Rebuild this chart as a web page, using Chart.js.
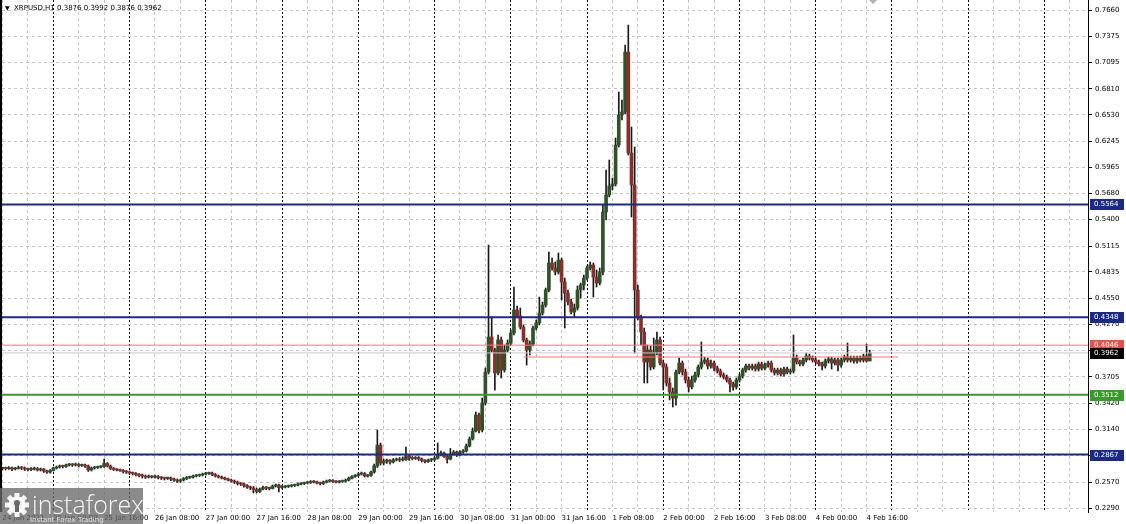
<!DOCTYPE html>
<html><head><meta charset="utf-8">
<script src="https://cdn.jsdelivr.net/npm/chart.js@4.4.1/dist/chart.umd.min.js"></script>
<style>html,body{margin:0;padding:0;background:#fff;overflow:hidden}#wrap{width:1126px;height:524px;position:relative}</style>
</head><body><div id="wrap"><canvas id="c" width="1126" height="524"></canvas></div>
<script>
const symbol = 'XRPUSD,H1';
const firstBarHour = 8; // hours counted from 24 Jan 2021 00:00
const open = [
0.2716,0.2721,0.2716,0.2721,0.2710,0.2716,0.2727,0.2721,0.2710,0.2705,
0.2710,0.2716,0.2700,0.2710,0.2689,0.2678,0.2694,0.2721,0.2732,0.2743,
0.2738,0.2754,0.2759,0.2754,0.2759,0.2748,0.2754,0.2743,0.2700,0.2721,
0.2727,0.2732,0.2738,0.2770,0.2743,0.2716,0.2705,0.2700,0.2694,0.2684,
0.2678,0.2667,0.2662,0.2651,0.2640,0.2635,0.2624,0.2630,0.2624,0.2630,
0.2619,0.2613,0.2608,0.2613,0.2603,0.2592,0.2581,0.2592,0.2608,0.2619,
0.2624,0.2635,0.2640,0.2646,0.2657,0.2662,0.2667,0.2651,0.2635,0.2624,
0.2613,0.2603,0.2592,0.2581,0.2570,0.2554,0.2549,0.2533,0.2516,0.2506,
0.2489,0.2468,0.2495,0.2511,0.2506,0.2500,0.2527,0.2538,0.2511,0.2516,
0.2522,0.2527,0.2533,0.2538,0.2549,0.2554,0.2560,0.2565,0.2576,0.2570,
0.2560,0.2554,0.2570,0.2581,0.2586,0.2576,0.2570,0.2576,0.2581,0.2592,
0.2613,0.2630,0.2640,0.2657,0.2662,0.2635,0.2640,0.2678,0.2743,0.2969,
0.2775,0.2797,0.2802,0.2786,0.2808,0.2818,0.2808,0.2813,0.2851,0.2829,
0.2824,0.2835,0.2818,0.2802,0.2791,0.2808,0.2813,0.2829,0.2862,0.2883,
0.2845,0.2818,0.2872,0.2894,0.2862,0.2894,0.2905,0.2959,0.3034,0.3120,
0.3293,0.3131,0.3422,0.3756,0.4134,0.3994,0.3746,0.4102,0.3778,0.3994,
0.4069,0.4177,0.4425,0.4361,0.4242,0.4102,0.3994,0.4058,0.4231,0.4285,
0.4393,0.4479,0.4641,0.4932,0.4878,0.4835,0.4964,0.4727,0.4608,0.4511,
0.4404,0.4447,0.4641,0.4695,0.4770,0.4878,0.4910,0.4781,0.4716,0.4835,
0.5482,0.5665,0.5762,0.5784,0.6204,0.6528,0.6560,0.7207,0.6118,0.5773,
0.4641,0.4339,0.4188,0.3864,0.3994,0.3810,0.3972,0.4102,0.3853,0.3810,
0.3638,0.3541,0.3476,0.3756,0.3853,0.3756,0.3670,0.3595,0.3670,0.3724,
0.3810,0.3864,0.3886,0.3821,0.3853,0.3799,0.3767,0.3724,0.3702,0.3670,
0.3627,0.3595,0.3670,0.3713,0.3778,0.3821,0.3799,0.3821,0.3789,0.3843,
0.3799,0.3832,0.3853,0.3778,0.3746,0.3778,0.3735,0.3789,0.3756,0.3767,
0.3907,0.3864,0.3843,0.3886,0.3929,0.3907,0.3886,0.3864,0.3843,0.3821,
0.3875,0.3897,0.3853,0.3886,0.3832,0.3886,0.3918,0.3886,0.3907,0.3875,
0.3907,0.3886,0.3929,0.3876];
const high = [
0.2732,0.2732,0.2738,0.2732,0.2727,0.2743,0.2738,0.2732,0.2721,0.2727,
0.2732,0.2727,0.2721,0.2716,0.2700,0.2705,0.2732,0.2743,0.2754,0.2754,
0.2764,0.2770,0.2770,0.2775,0.2770,0.2764,0.2764,0.2754,0.2732,0.2738,
0.2743,0.2748,0.2818,0.2781,0.2754,0.2727,0.2716,0.2710,0.2705,0.2694,
0.2689,0.2678,0.2673,0.2662,0.2657,0.2646,0.2646,0.2640,0.2646,0.2640,
0.2630,0.2624,0.2624,0.2624,0.2613,0.2603,0.2603,0.2619,0.2630,0.2635,
0.2646,0.2651,0.2657,0.2667,0.2673,0.2678,0.2678,0.2662,0.2646,0.2635,
0.2624,0.2613,0.2603,0.2592,0.2581,0.2565,0.2560,0.2543,0.2527,0.2522,
0.2506,0.2506,0.2527,0.2522,0.2516,0.2538,0.2549,0.2549,0.2533,0.2533,
0.2538,0.2543,0.2549,0.2560,0.2565,0.2570,0.2576,0.2586,0.2586,0.2581,
0.2570,0.2581,0.2592,0.2597,0.2597,0.2586,0.2586,0.2592,0.2603,0.2624,
0.2640,0.2651,0.2667,0.2678,0.2673,0.2651,0.2689,0.2764,0.3131,0.2991,
0.2818,0.2818,0.2813,0.2824,0.2829,0.2835,0.2840,0.2948,0.2862,0.2845,
0.2845,0.2845,0.2829,0.2813,0.2818,0.2824,0.2840,0.2991,0.2905,0.2894,
0.2856,0.2932,0.2910,0.2905,0.2910,0.2921,0.2980,0.3056,0.3153,0.3325,
0.3314,0.3476,0.3800,0.5126,0.4350,0.4015,0.4156,0.4134,0.4048,0.4102,
0.4210,0.4673,0.4468,0.4447,0.4264,0.4123,0.4091,0.4253,0.4317,0.4565,
0.4511,0.4662,0.5051,0.4986,0.4943,0.5040,0.4986,0.4770,0.4641,0.4544,
0.4490,0.4684,0.4716,0.4803,0.4900,0.4943,0.4932,0.4856,0.4878,0.5557,
0.5935,0.6043,0.5848,0.6280,0.6776,0.6690,0.7283,0.7498,0.6398,0.6183,
0.4695,0.4371,0.4231,0.4048,0.4037,0.4123,0.4188,0.4134,0.3886,0.3843,
0.3692,0.3584,0.3778,0.3907,0.3875,0.3789,0.3702,0.3713,0.3756,0.3832,
0.4080,0.3918,0.3907,0.3886,0.3875,0.3821,0.3789,0.3746,0.3724,0.3692,
0.3648,0.3692,0.3735,0.3799,0.3843,0.3843,0.3843,0.3843,0.3864,0.3864,
0.3853,0.3875,0.3875,0.3799,0.3799,0.3799,0.3810,0.3810,0.3789,0.4156,
0.3940,0.3886,0.3907,0.3961,0.3950,0.3929,0.3907,0.3886,0.3864,0.3897,
0.3918,0.3918,0.3907,0.3907,0.3907,0.3940,0.4069,0.3929,0.3929,0.3929,
0.3929,0.3950,0.4058,0.3992];
const low = [
0.2700,0.2700,0.2705,0.2694,0.2700,0.2710,0.2705,0.2694,0.2689,0.2694,
0.2700,0.2689,0.2689,0.2673,0.2662,0.2667,0.2689,0.2710,0.2721,0.2721,
0.2727,0.2743,0.2738,0.2743,0.2732,0.2738,0.2727,0.2684,0.2689,0.2710,
0.2716,0.2721,0.2727,0.2732,0.2705,0.2694,0.2689,0.2684,0.2667,0.2662,
0.2651,0.2646,0.2635,0.2624,0.2613,0.2608,0.2613,0.2613,0.2613,0.2603,
0.2597,0.2592,0.2597,0.2586,0.2576,0.2565,0.2565,0.2581,0.2597,0.2608,
0.2613,0.2624,0.2630,0.2635,0.2646,0.2651,0.2640,0.2624,0.2613,0.2603,
0.2592,0.2581,0.2570,0.2554,0.2538,0.2533,0.2516,0.2500,0.2489,0.2452,
0.2452,0.2457,0.2484,0.2489,0.2484,0.2495,0.2516,0.2463,0.2500,0.2506,
0.2511,0.2516,0.2522,0.2527,0.2538,0.2543,0.2549,0.2554,0.2560,0.2549,
0.2538,0.2543,0.2560,0.2570,0.2565,0.2560,0.2560,0.2565,0.2570,0.2581,
0.2603,0.2619,0.2630,0.2646,0.2624,0.2624,0.2630,0.2667,0.2727,0.2754,
0.2754,0.2770,0.2764,0.2775,0.2797,0.2791,0.2797,0.2802,0.2802,0.2808,
0.2813,0.2802,0.2786,0.2775,0.2781,0.2791,0.2802,0.2818,0.2851,0.2835,
0.2775,0.2808,0.2862,0.2845,0.2851,0.2878,0.2894,0.2948,0.3023,0.3110,
0.3099,0.3110,0.3400,0.3735,0.3972,0.3562,0.3724,0.3692,0.3756,0.3972,
0.4048,0.4156,0.4339,0.4220,0.4080,0.3832,0.3940,0.4037,0.4210,0.4264,
0.4371,0.4457,0.4619,0.4856,0.4803,0.4813,0.4533,0.4231,0.4479,0.4382,
0.4350,0.4425,0.4554,0.4641,0.4749,0.4856,0.4565,0.4673,0.4695,0.4803,
0.5396,0.5644,0.5719,0.5762,0.6183,0.6474,0.6539,0.6097,0.5428,0.3961,
0.4317,0.4048,0.3638,0.3638,0.3778,0.3789,0.3940,0.3832,0.3562,0.3605,
0.3455,0.3379,0.3400,0.3735,0.3724,0.3638,0.3541,0.3573,0.3648,0.3702,
0.3789,0.3843,0.3789,0.3799,0.3767,0.3746,0.3702,0.3681,0.3648,0.3541,
0.3562,0.3573,0.3648,0.3692,0.3756,0.3778,0.3778,0.3767,0.3767,0.3778,
0.3778,0.3810,0.3756,0.3724,0.3724,0.3713,0.3713,0.3735,0.3735,0.3746,
0.3843,0.3821,0.3821,0.3864,0.3886,0.3864,0.3843,0.3821,0.3778,0.3799,
0.3853,0.3789,0.3832,0.3767,0.3810,0.3864,0.3864,0.3864,0.3853,0.3853,
0.3864,0.3864,0.3864,0.3876];
const close = [
0.2721,0.2716,0.2721,0.2710,0.2716,0.2727,0.2721,0.2710,0.2705,0.2710,
0.2716,0.2700,0.2710,0.2689,0.2678,0.2694,0.2721,0.2732,0.2743,0.2738,
0.2754,0.2759,0.2754,0.2759,0.2748,0.2754,0.2743,0.2700,0.2721,0.2727,
0.2732,0.2738,0.2770,0.2743,0.2716,0.2705,0.2700,0.2694,0.2684,0.2678,
0.2667,0.2662,0.2651,0.2640,0.2635,0.2624,0.2630,0.2624,0.2630,0.2619,
0.2613,0.2608,0.2613,0.2603,0.2592,0.2581,0.2592,0.2608,0.2619,0.2624,
0.2635,0.2640,0.2646,0.2657,0.2662,0.2667,0.2651,0.2635,0.2624,0.2613,
0.2603,0.2592,0.2581,0.2570,0.2554,0.2549,0.2533,0.2516,0.2506,0.2489,
0.2468,0.2495,0.2511,0.2506,0.2500,0.2527,0.2538,0.2511,0.2516,0.2522,
0.2527,0.2533,0.2538,0.2549,0.2554,0.2560,0.2565,0.2576,0.2570,0.2560,
0.2554,0.2570,0.2581,0.2586,0.2576,0.2570,0.2576,0.2581,0.2592,0.2613,
0.2630,0.2640,0.2657,0.2662,0.2635,0.2640,0.2678,0.2743,0.2969,0.2775,
0.2797,0.2802,0.2786,0.2808,0.2818,0.2808,0.2813,0.2851,0.2829,0.2824,
0.2835,0.2818,0.2802,0.2791,0.2808,0.2813,0.2829,0.2862,0.2883,0.2845,
0.2818,0.2872,0.2894,0.2862,0.2894,0.2905,0.2959,0.3034,0.3120,0.3293,
0.3131,0.3422,0.3756,0.4134,0.3994,0.3746,0.4102,0.3778,0.3994,0.4069,
0.4177,0.4425,0.4361,0.4242,0.4102,0.3994,0.4058,0.4231,0.4285,0.4393,
0.4479,0.4641,0.4932,0.4878,0.4835,0.4964,0.4727,0.4608,0.4511,0.4404,
0.4447,0.4641,0.4695,0.4770,0.4878,0.4910,0.4781,0.4716,0.4835,0.5482,
0.5665,0.5762,0.5784,0.6204,0.6528,0.6560,0.7207,0.6118,0.5773,0.4641,
0.4339,0.4188,0.3864,0.3994,0.3810,0.3972,0.4102,0.3853,0.3810,0.3638,
0.3541,0.3476,0.3756,0.3853,0.3756,0.3670,0.3595,0.3670,0.3724,0.3810,
0.3864,0.3886,0.3821,0.3853,0.3799,0.3767,0.3724,0.3702,0.3670,0.3627,
0.3595,0.3670,0.3713,0.3778,0.3821,0.3799,0.3821,0.3789,0.3843,0.3799,
0.3832,0.3853,0.3778,0.3746,0.3778,0.3735,0.3789,0.3756,0.3767,0.3907,
0.3864,0.3843,0.3886,0.3929,0.3907,0.3886,0.3864,0.3843,0.3821,0.3875,
0.3897,0.3853,0.3886,0.3832,0.3886,0.3918,0.3886,0.3907,0.3875,0.3907,
0.3886,0.3929,0.3875,0.3962];
const yTickValues = [0.7660,0.7375,0.7095,0.6810,0.6530,0.6245,0.5965,0.5680,0.5400,0.5115,0.4835,0.4550,0.4270,0.3985,0.3705,0.3420,0.3140,0.2855,0.2570,0.2290];
const xTickHours = [8,24,40,56,72,88,104,120,136,152,168,184,200,216,232,248,264,280];
const xTickLabels = ['24 Jan 2021','25 Jan 00:00','25 Jan 16:00','26 Jan 08:00','27 Jan 00:00','27 Jan 16:00','28 Jan 08:00','29 Jan 00:00','29 Jan 16:00','30 Jan 08:00','31 Jan 00:00','31 Jan 16:00','1 Feb 08:00','2 Feb 00:00','2 Feb 16:00','3 Feb 08:00','4 Feb 00:00','4 Feb 16:00'];
const levelBlue = [0.5564, 0.4348, 0.2867];
const levelGreen = [0.3512];
const levelRed = [0.4046];
const bidPrice = 0.3962;
const redSegment = [[172, 0.3918], [290, 0.3918]];

const FONT = '"DejaVu Sans", sans-serif';
const NAVY = '#1b2a86', GREEN = '#3a9a2c', RED = '#e8504a';
const X_MIN = 7.85, X_MAX = 349.7, Y_MIN = 0.2247, Y_MAX = 0.7768;

const bars = open.map((o, k) => ({x: firstBarHour + k, o, h: high[k], l: low[k], c: close[k]}));
const isUp = k => close[k] >= open[k];
const hLine = (v, color, width) => ({type: 'line', data: [{x: X_MIN - 5, y: v}, {x: X_MAX + 5, y: v}], borderColor: color, borderWidth: width, pointRadius: 0, order: 0});

const overlay = {
  id: 'overlay',
  afterDraw(chart) {
    const {ctx, chartArea: a, scales: {y}} = chart;
    ctx.save();
    ctx.fillStyle = '#000';
    ctx.fillRect(a.left - 2, a.top, 2, a.bottom - a.top);
    // chart shift marker
    ctx.fillStyle = '#b0b0b0';
    ctx.beginPath(); ctx.moveTo(869, 0); ctx.lineTo(877, 0); ctx.lineTo(873, 4); ctx.closePath(); ctx.fill();
    // price boxes
    const boxes = [];
    levelBlue.forEach(v => boxes.push([v, NAVY]));
    levelGreen.forEach(v => boxes.push([v, GREEN]));
    levelRed.forEach(v => boxes.push([v, RED]));
    boxes.push([bidPrice, '#000']);
    ctx.font = '7px ' + FONT; ctx.textBaseline = 'middle'; ctx.textAlign = 'left';
    boxes.forEach(([v, bg]) => {
      const py = Math.round(y.getPixelForValue(v));
      ctx.fillStyle = bg; ctx.fillRect(a.right + 2, py - 5, 34, 11);
      ctx.fillStyle = '#fff'; ctx.fillText(v.toFixed(4), a.right + 6, py + 0.5);
    });
    // title
    const n = close.length - 1;
    ctx.fillStyle = '#000'; ctx.font = '6px ' + FONT; ctx.textBaseline = 'alphabetic';
    ctx.fillText('\u25BC', a.left + 3, 10);
    ctx.font = '7px ' + FONT;
    ctx.fillText(symbol + ' ' + [open[n], high[n], low[n], close[n]].map(v => v.toFixed(4)).join(' '), a.left + 12, 10);
    // logo
    ctx.fillStyle = 'rgba(105,105,105,0.78)';
    ctx.fillRect(0, 488, 143, 36);
    ctx.fillStyle = 'rgba(255,255,255,0.9)';
    const gx = 17, gy = 505;
    for (let t = 0; t < 8; t++) {
      ctx.save(); ctx.translate(gx, gy); ctx.rotate(t * Math.PI / 4);
      ctx.fillRect(-2.5, -12, 5, 6); ctx.restore();
    }
    ctx.beginPath(); ctx.arc(gx, gy, 8.5, 0, Math.PI * 2); ctx.fill();
    ctx.fillStyle = 'rgba(105,105,105,1)';
    ctx.beginPath(); ctx.arc(gx, gy - 2, 3, 0, Math.PI * 2); ctx.fill();
    ctx.fillRect(gx - 2, gy, 4, 7);
    ctx.fillStyle = 'rgba(255,255,255,0.92)';
    ctx.font = '300 25px "Open Sans", sans-serif';
    ctx.fillText('instaforex', 32, 514);
    ctx.font = '7px ' + FONT; ctx.fillStyle = 'rgba(235,235,235,0.9)';
    ctx.fillText('Instant Forex Trading', 30, 522);
    ctx.restore();
  }
};

new Chart(document.getElementById('c'), {
  type: 'bar',
  data: {
    datasets: [
      hLine(levelRed[0], '#f07a74', 1),
      hLine(bidPrice, '#c8c8c8', 1),
      {type: 'line', data: redSegment.map(([x, v]) => ({x, y: v})), borderColor: '#f07a74', borderWidth: 1, pointRadius: 0, order: 0},
      ...levelBlue.map(v => hLine(v, NAVY, 2)),
      ...levelGreen.map(v => hLine(v, GREEN, 2)),
      {type: 'bar', data: bars.map(b => ({x: b.x, y: [b.l, b.h]})), backgroundColor: '#1a1a1a', barThickness: 1, grouped: false, order: 3},
      {type: 'bar', data: bars.map(b => ({x: b.x, y: [b.o, b.c]})), backgroundColor: ctx => isUp(ctx.dataIndex) ? '#2f5229' : '#862f2b', borderColor: '#1a1a1a', borderWidth: 0, barThickness: 3, minBarLength: 1, grouped: false, order: 2}
    ]
  },
  options: {
    responsive: false, animation: false, devicePixelRatio: 1,
    layout: {padding: {left: 2, top: 0, right: 0, bottom: 0}},
    plugins: {legend: {display: false}, tooltip: {enabled: false}},
    scales: {
      x: {
        type: 'linear', min: X_MIN, max: X_MAX, offset: false,
        grid: {offset: false, color: c => (c.tick && c.tick.value % 24 === 0) ? '#000' : '#c4c4c4', lineWidth: 1, drawTicks: false},
        border: {display: false, dash: c => (c.tick && c.tick.value % 24 === 0) ? [2, 2] : [3, 3]},
        ticks: {align: 'start', maxRotation: 0, autoSkip: false, padding: 2, color: '#000', font: {family: FONT, size: 7},
          callback: v => { const k = xTickHours.indexOf(v); return k >= 0 ? xTickLabels[k] : ''; }},
        afterBuildTicks: s => { const t = []; for (let h = 8; h <= 344; h += 8) t.push({value: h}); s.ticks = t; },
        afterFit: s => { s.height = 12; s.paddingLeft = 0; s.paddingRight = 0; }
      },
      y: {
        position: 'right', min: Y_MIN, max: Y_MAX,
        grid: {color: '#c4c4c4', lineWidth: 1, drawTicks: true, tickLength: 4, tickColor: '#000'},
        border: {display: true, color: '#000', width: 1, dash: [3, 3]},
        ticks: {padding: 3, color: '#000', font: {family: FONT, size: 7}, callback: v => Number(v).toFixed(4)},
        afterBuildTicks: s => { s.ticks = yTickValues.map(v => ({value: v})); },
        afterFit: s => { s.width = 38; s.paddingTop = 0; s.paddingBottom = 0; }
      }
    }
  },
  plugins: [overlay]
});
</script>
</body></html>
